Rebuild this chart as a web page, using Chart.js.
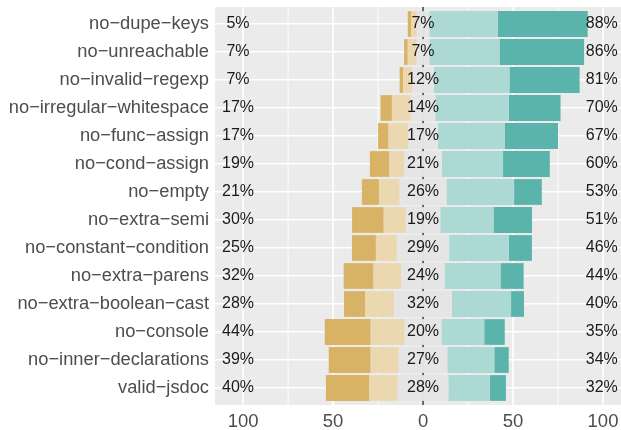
<!DOCTYPE html>
<html>
<head>
<meta charset="utf-8">
<script src="https://cdn.jsdelivr.net/npm/chart.js@4/dist/chart.umd.min.js"></script>
<style>
  html, body { margin: 0; padding: 0; background: #ffffff; }
  canvas { display: block; }
</style>
</head>
<body>
<canvas id="likert-chart" width="621" height="430"></canvas>
<script>
// ------------------------------------------------------
// @Data (percent of answers per rule, top row first)
// ------------------------------------------------------

const rules = [
  'no−dupe−keys', 'no−unreachable', 'no−invalid−regexp', 'no−irregular−whitespace',
  'no−func−assign', 'no−cond−assign', 'no−empty', 'no−extra−semi',
  'no−constant−condition', 'no−extra−parens', 'no−extra−boolean−cast', 'no−console',
  'no−inner−declarations', 'valid−jsdoc',
];
const stronglyDisagree = [2, 2, 2, 6.3, 5.8, 10.9, 9.5, 17.6, 13.3, 16.6, 11.7, 25.5, 23.3, 24.1];
const disagree         = [3, 5, 5, 10.5, 10.9, 8.2, 11.5, 12.3, 11.7, 15.5, 16.2, 18.9, 15.6, 15.8];
const neutral          = [7, 7, 12, 13.6, 16.6, 20.9, 26, 19.1, 29, 24, 32, 20.4, 27, 28.1];
const agree            = [38, 39, 42, 40.8, 37, 34, 37.6, 29.6, 33.2, 31, 32.9, 23.8, 26.1, 23];
const stronglyAgree    = [50, 47, 39, 28.8, 29.7, 26, 15.4, 21.4, 12.8, 12.9, 7.2, 11.4, 8, 9];
const xTickValues      = [-100, -75, -50, -25, 0, 25, 50, 75, 100];

const COLORS = {
  sd      : '#D8B365',
  d       : '#EBD8B1',
  n       : '#E5E5E5',
  a       : '#ADD9D4',
  sa      : '#5AB4AC',
  panel   : '#EBEBEB',
  grid    : '#FFFFFF',
  axis    : '#4D4D4D',
  label   : '#1A1A1A',
};

const neg = (arr) => arr.map((v) => -v);
const half = (arr, sign) => arr.map((v) => sign * v / 2);

const leftLabels   = stronglyDisagree.map((v, i) => Math.round(v + disagree[i]) + '%');
const centerLabels = neutral.map((v) => Math.round(v) + '%');
const rightLabels  = agree.map((v, i) => Math.round(v + stronglyAgree[i]) + '%');

// ------------------------------------------------------
// @Panel plugin (ggplot-like background + labels)
// ------------------------------------------------------

const EXTEND = 3; // ggplot's discrete axis expands a bit more than chart.js offset

const panelPlugin = {
  id: 'panel',
  beforeDraw(chart) {
    const { ctx, chartArea: area, scales: { x } } = chart;
    ctx.save();
    ctx.fillStyle = COLORS.panel;
    ctx.fillRect(area.left, area.top - EXTEND, area.right - area.left, area.bottom - area.top + 2 * EXTEND);
    ctx.strokeStyle = COLORS.grid;
    xTickValues.forEach((v) => {
      if (v === 0) return;
      const px = x.getPixelForValue(v);
      ctx.lineWidth = v % 50 === 0 ? 1.6 : 0.9;
      ctx.beginPath();
      ctx.moveTo(px, area.top - EXTEND);
      ctx.lineTo(px, area.bottom + EXTEND);
      ctx.stroke();
    });
    ctx.restore();
  },
  beforeDatasetsDraw(chart) {
    const { ctx, chartArea: area, scales: { x } } = chart;
    const px = x.getPixelForValue(0);
    ctx.save();
    ctx.strokeStyle = '#333333';
    ctx.lineWidth = 1.4;
    ctx.beginPath();
    ctx.moveTo(px, area.top - EXTEND);
    ctx.lineTo(px, area.bottom + EXTEND);
    ctx.stroke();
    ctx.restore();
  },
  afterDatasetsDraw(chart) {
    const { ctx, scales: { x, y } } = chart;
    ctx.save();
    ctx.font = '16px "Liberation Sans", Arial, sans-serif';
    ctx.fillStyle = COLORS.label;
    ctx.textAlign = 'center';
    ctx.textBaseline = 'middle';
    rules.forEach((r, i) => {
      const py = y.getPixelForValue(i);
      ctx.fillText(leftLabels[i], x.getPixelForValue(-102.8), py);
      ctx.fillText(centerLabels[i], x.getPixelForValue(0), py);
      ctx.fillText(rightLabels[i], x.getPixelForValue(99.3), py);
    });
    ctx.restore();
  },
};

// ------------------------------------------------------
// @Likert bar chart
// ------------------------------------------------------

Chart.defaults.font.family = '"Liberation Sans", Arial, sans-serif';

const likertBox = document.getElementById('likert-chart');

if (likertBox) {
  const likertCtx = likertBox.getContext('2d');

  const bar = (data, color) => ({
    data            : data,
    backgroundColor : color,
    borderWidth     : 0,
    barPercentage   : 0.92,
    categoryPercentage: 1,
    stack           : 'all',
  });

  new Chart(likertCtx, {
    type: 'bar',
    data: {
      labels: rules,
      datasets: [
        bar(half(neutral, -1), COLORS.n),
        bar(neg(disagree), COLORS.d),
        bar(neg(stronglyDisagree), COLORS.sd),
        bar(half(neutral, 1), COLORS.n),
        bar(agree, COLORS.a),
        bar(stronglyAgree, COLORS.sa),
      ],
    },
    options: {
      indexAxis: 'y',
      responsive: false,
      animation: false,
      layout: { padding: { top: 10, left: 0, right: 0, bottom: 0 } },
      plugins: {
        legend: { display: false },
        tooltip: { enabled: false },
      },
      scales: {
        x: {
          stacked: true,
          min: -115.6,
          max: 110,
          afterFit: (scale) => {
            scale.height = 28;
            scale.paddingLeft = 0;
            scale.paddingRight = 0;
          },
          afterBuildTicks: (scale) => { scale.ticks = xTickValues.map((v) => ({ value: v })); },
          grid: { display: false, drawTicks: false },
          border: { display: false },
          ticks: {
            padding: 9,
            color: COLORS.axis,
            font: { size: 18.5 },
            maxRotation: 0,
            autoSkip: false,
            callback: (v) => (v % 50 === 0 ? String(Math.abs(v)) : ''),
          },
        },
        y: {
          stacked: true,
          afterFit: (scale) => {
            scale.width = 215;
            scale.paddingTop = 0;
            scale.paddingBottom = 0;
          },
          grid: { color: COLORS.grid, lineWidth: 1.6, offset: false, drawTicks: false },
          border: { display: false },
          ticks: {
            padding: 6,
            color: COLORS.axis,
            font: { size: 18.3 },
          },
        },
      },
    },
    plugins: [panelPlugin],
  });
}
</script>
</body>
</html>
